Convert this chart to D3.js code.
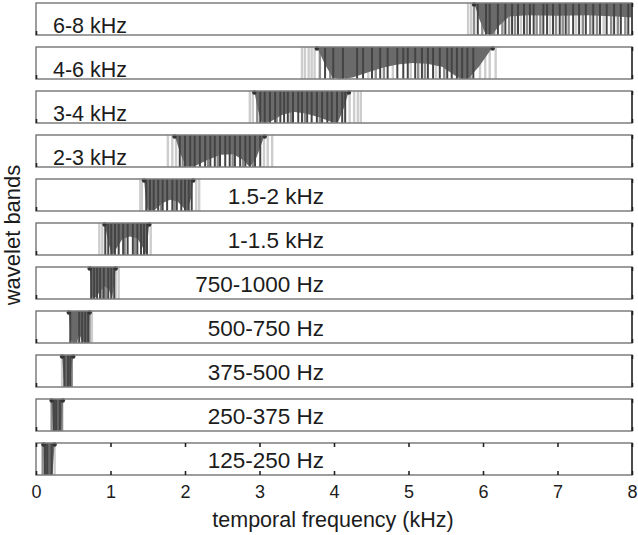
<!DOCTYPE html>
<html>
<head>
<meta charset="utf-8">
<script src="https://cdn.jsdelivr.net/npm/d3@7"></script>
<style>
  body { margin: 0; background: #fff; }
  svg { display: block; }
  text { font-family: "Liberation Sans", Arial, sans-serif; fill: #1c1c1c; }
</style>
</head>
<body>
<div id="chart"></div>
<script>
// wavelet band names, top to bottom
const bands = ["6-8 kHz", "4-6 kHz", "3-4 kHz", "2-3 kHz", "1.5-2 kHz", "1-1.5 kHz",
  "750-1000 Hz", "500-750 Hz", "375-500 Hz", "250-375 Hz", "125-250 Hz"];
const xTicks = [0, 1, 2, 3, 4, 5, 6, 7, 8];

// spectral lines per band: [kHz, shade 1=light 2=mid 3=dark]
const lines68 = [[5.80,1],[5.84,1],[5.88,2],[5.93,3],[5.99,2],[6.04,3],[6.09,3],[6.15,2],[6.20,3],[6.26,2],
  [6.30,3],[6.35,2],[6.39,3],[6.43,2],[6.47,3],[6.51,1],[6.55,3],[6.59,2],[6.63,3],[6.68,3],[6.72,2],[6.77,2],
  [6.81,3],[6.86,3],[6.90,1],[6.94,3],[6.98,2],[7.03,3],[7.07,2],[7.11,3],[7.15,2],[7.21,3],[7.25,1],[7.29,3],
  [7.34,2],[7.38,3],[7.44,2],[7.48,3],[7.53,2],[7.57,3],[7.62,1],[7.66,3],[7.72,2],[7.76,3],[7.81,2],[7.85,3],
  [7.91,2],[7.95,3]];
const lines46 = [[3.57,1],[3.61,1],[3.66,1],[3.70,1],[3.74,1],[3.81,2],[3.88,3],[3.95,2],[3.99,3],[4.05,1],
  [4.12,3],[4.17,2],[4.21,1],[4.31,3],[4.39,3],[4.46,1],[4.51,3],[4.56,2],[4.62,3],[4.67,2],[4.72,3],[4.79,1],
  [4.85,3],[4.93,3],[4.99,3],[5.03,1],[5.09,3],[5.13,2],[5.18,3],[5.22,2],[5.26,3],[5.33,3],[5.37,1],[5.42,3],
  [5.48,2],[5.52,3],[5.58,3],[5.65,3],[5.72,3],[5.79,3],[5.83,2],[5.87,3],[5.96,1],[6.03,1],[6.09,1],[6.17,1]];
const lines34 = [[2.87,1],[2.91,1],[2.97,2],[3.01,3],[3.07,3],[3.10,2],[3.14,3],[3.21,3],[3.23,2],[3.28,3],
  [3.33,3],[3.38,3],[3.42,2],[3.45,3],[3.52,3],[3.57,3],[3.61,2],[3.64,3],[3.70,3],[3.77,3],[3.81,2],[3.84,3],
  [3.91,3],[3.97,3],[4.01,2],[4.04,3],[4.11,3],[4.15,3],[4.21,1],[4.27,1],[4.32,1],[4.36,1]];
const lines23 = [[1.77,1],[1.83,1],[1.88,1],[1.93,3],[1.97,2],[2.00,3],[2.07,3],[2.11,2],[2.13,3],[2.20,3],
  [2.27,3],[2.31,2],[2.34,3],[2.40,3],[2.44,2],[2.47,3],[2.54,3],[2.60,3],[2.64,2],[2.67,3],[2.74,3],[2.78,2],
  [2.81,3],[2.87,3],[2.91,2],[2.94,3],[3.01,3],[3.06,1],[3.11,1],[3.17,1]];
const lines1520 = [[1.40,1],[1.42,1],[1.48,3],[1.50,2],[1.53,3],[1.58,3],[1.64,3],[1.68,2],[1.70,3],[1.76,3],
  [1.83,3],[1.86,2],[1.89,3],[1.95,3],[2.00,3],[2.03,2],[2.05,3],[2.09,3],[2.15,1],[2.19,1]];
const lines1015 = [[0.85,1],[0.89,1],[0.93,3],[0.97,3],[1.01,3],[1.03,2],[1.06,3],[1.11,3],[1.17,3],[1.19,2],
  [1.23,3],[1.30,3],[1.33,2],[1.36,3],[1.41,3],[1.45,3],[1.49,3],[1.54,1]];
const lines7501000 = [[0.74,3],[0.76,2],[0.78,3],[0.82,3],[0.86,3],[0.89,2],[0.91,3],[0.94,2],[0.97,3],
  [1.01,3],[1.05,3],[1.07,1],[1.11,1]];
const lines500750 = [[0.46,3],[0.48,2],[0.51,1],[0.54,2],[0.58,3],[0.62,3],[0.66,3],[0.70,3],[0.72,2],[0.75,1]];
const lines375500 = [[0.35,1],[0.38,3],[0.40,2],[0.43,3],[0.46,3],[0.48,2]];
const lines250375 = [[0.21,2],[0.24,3],[0.27,3],[0.30,2],[0.32,3],[0.35,2]];
const lines125250 = [[0.09,2],[0.12,3],[0.15,3],[0.19,2],[0.21,3],[0.25,1]];

// dark envelope per band: [kHz, depth from top (0..1)]
const fill68 = [[5.88,0],[5.95,0.5],[6.03,0.95],[6.12,1],[6.22,0.7],[6.35,0.42],[6.6,0.38],[7.0,0.4],
  [7.4,0.38],[7.8,0.42],[8.0,0.45]];
const fill46 = [[3.77,0],[3.88,0.55],[3.98,0.95],[4.08,1],[4.25,0.95],[4.45,0.8],[4.65,0.65],[4.85,0.55],
  [5.05,0.5],[5.25,0.52],[5.45,0.62],[5.6,0.85],[5.7,1],[5.8,1],[5.95,0.6],[6.13,0]];
const fill34 = [[2.93,0],[2.98,0.6],[3.03,1],[3.15,0.95],[3.3,0.75],[3.45,0.65],[3.62,0.7],[3.8,0.82],
  [3.95,0.95],[4.05,1],[4.13,0.55],[4.2,0]];
const fill23 = [[1.86,0],[1.94,0.6],[2.02,1],[2.15,0.95],[2.3,0.78],[2.48,0.62],[2.65,0.6],[2.78,0.78],
  [2.87,1],[2.96,0.7],[3.07,0]];
const fill1520 = [[1.45,0],[1.48,0.8],[1.52,1],[1.6,0.95],[1.7,0.75],[1.8,0.65],[1.9,0.7],[1.98,0.9],
  [2.03,1],[2.08,0.6],[2.11,0]];
const fill1015 = [[0.92,0],[0.97,0.6],[1.02,1],[1.08,0.8],[1.16,0.5],[1.26,0.42],[1.36,0.48],[1.43,0.75],
  [1.47,1],[1.5,0.5],[1.52,0]];
const fill7501000 = [[0.72,0],[0.75,0.9],[0.78,1],[0.85,0.8],[0.92,0.6],[0.98,0.7],[1.02,1],[1.05,0.5],[1.07,0]];
const fill500750 = [[0.44,0],[0.47,0.9],[0.5,1],[0.55,1],[0.58,0.7],[0.61,0.9],[0.65,1],[0.7,1],[0.72,0]];
const fill375500 = [[0.35,0],[0.37,0.7],[0.39,1],[0.45,1],[0.48,0.3],[0.5,0]];
const fill250375 = [[0.21,0],[0.23,1],[0.34,1],[0.36,0]];
const fill125250 = [[0.1,0],[0.11,1],[0.22,1],[0.25,0]];

const bandLines = [lines68, lines46, lines34, lines23, lines1520, lines1015, lines7501000,
  lines500750, lines375500, lines250375, lines125250];
const bandFills = [fill68, fill46, fill34, fill23, fill1520, fill1015, fill7501000,
  fill500750, fill375500, fill250375, fill125250];

const width = 638, height = 535;
const shade = { 1: "#cdcdcd", 2: "#8e8e8e", 3: "#444" };

const svg = d3.select("#chart").append("svg")
  .attr("width", width)
  .attr("height", height);

const x = d3.scaleLinear().domain([0, 8]).range([36, 632]);
const y = d3.scaleBand().domain(bands).range([3, 475]).paddingInner(0.2727).paddingOuter(0);
const bh = y.bandwidth();
const depth = d3.scaleLinear().domain([0, 1]).range([0, bh]);

const area = d3.area()
  .x(d => x(d[0]))
  .y0(0)
  .y1(d => depth(d[1]));

bands.forEach((name, i) => {
  const g = svg.append("g").attr("transform", `translate(0,${y(name)})`);
  const last = i === bands.length - 1;

  g.append("rect")
    .attr("x", x(0)).attr("y", 0)
    .attr("width", x(8) - x(0)).attr("height", bh)
    .attr("fill", "#fff");

  // light and mid lines under the envelope
  g.selectAll("line.soft")
    .data(bandLines[i].filter(d => d[1] < 3))
    .enter().append("line")
    .attr("class", "soft")
    .attr("x1", d => x(d[0])).attr("x2", d => x(d[0]))
    .attr("y1", 0).attr("y2", bh)
    .attr("stroke", d => shade[d[1]])
    .attr("stroke-width", 2.4);

  g.append("path")
    .datum(bandFills[i])
    .attr("d", area)
    .attr("fill", "#6a6a6a");

  g.selectAll("line.hard")
    .data(bandLines[i].filter(d => d[1] === 3))
    .enter().append("line")
    .attr("class", "hard")
    .attr("x1", d => x(d[0])).attr("x2", d => x(d[0]))
    .attr("y1", 0).attr("y2", bh)
    .attr("stroke", shade[3])
    .attr("stroke-width", 2);

  // dark caps at envelope ends
  const f = bandFills[i];
  g.selectAll("circle")
    .data([f[0], f[f.length - 1]].filter(d => d[0] < 8))
    .enter().append("circle")
    .attr("cx", d => x(d[0])).attr("cy", 1.5)
    .attr("r", 2.2)
    .attr("fill", "#333");

  // frame
  g.append("rect")
    .attr("x", x(0)).attr("y", 0)
    .attr("width", x(8) - x(0)).attr("height", bh)
    .attr("fill", "none")
    .attr("stroke", "#7d7d7d")
    .attr("stroke-width", 1.5);
  g.append("line")
    .attr("x1", x(8)).attr("x2", x(8))
    .attr("y1", 0).attr("y2", bh)
    .attr("stroke", "#333").attr("stroke-width", 1.5);

  // inward ticks
  const bottomAxis = d3.axisBottom(x)
    .tickValues(last ? xTicks : [0, 8])
    .tickSize(-4)
    .tickFormat(last ? d3.format("d") : "")
    .tickPadding(10);
  const topAxis = d3.axisTop(x)
    .tickValues(last ? xTicks : [8])
    .tickSize(-4)
    .tickFormat("");

  const ba = g.append("g").attr("transform", `translate(0,${bh})`).call(bottomAxis);
  const ta = g.append("g").call(topAxis);
  [ba, ta].forEach(a => {
    a.select(".domain").remove();
    a.selectAll(".tick line").attr("stroke", "#222").attr("stroke-width", 1.6);
  });
  ba.selectAll(".tick text")
    .attr("font-size", 18)
    .attr("fill", "#333")
    .attr("font-family", "\"Liberation Sans\", Arial, sans-serif");

  // band label
  const label = g.append("text")
    .attr("font-size", i < 4 ? 21.5 : 22.5)
    .text(name);
  if (i < 4) {
    label.attr("x", 53).attr("y", bh - 2);
  } else {
    label.attr("x", 324).attr("y", bh / 2 + 9).attr("text-anchor", "end");
  }
});

svg.append("text")
  .attr("x", 333).attr("y", 527)
  .attr("text-anchor", "middle")
  .attr("font-size", 21.5)
  .text("temporal frequency (kHz)");

svg.append("text")
  .attr("transform", "translate(20,235) rotate(-90)")
  .attr("text-anchor", "middle")
  .attr("font-size", 22)
  .text("wavelet bands");
</script>
</body>
</html>
